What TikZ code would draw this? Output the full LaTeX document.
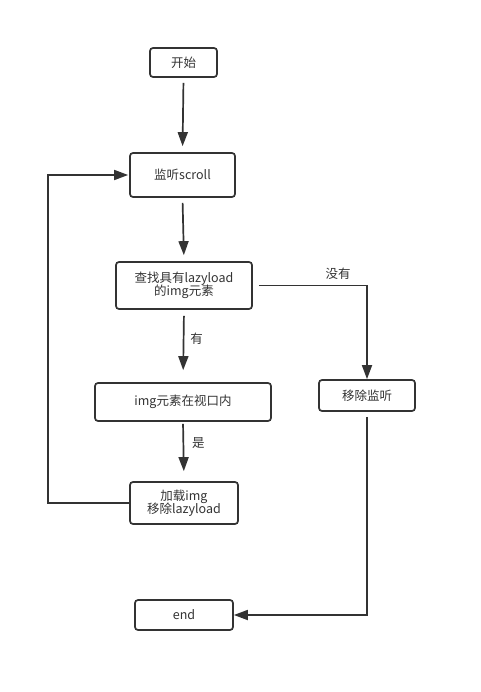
\documentclass[tikz,border=0pt]{standalone}
\usepackage{fontspec}
\setmainfont{Noto Sans CJK SC}
\usetikzlibrary{arrows.meta}
\definecolor{ink}{HTML}{333333}
\tikzset{
  box/.style={draw=ink, line width=1.7pt, rounded corners=3pt, text=ink, align=center, inner sep=0pt,
    font=\fontsize{12.5}{15}\selectfont},
  conn/.style={draw=ink, line width=1.7pt, -{Triangle[length=14pt,width=10pt]}},
  lbl/.style={text=ink, font=\fontsize{12.5}{14}\selectfont, inner sep=0pt}
}
\begin{document}
\begin{tikzpicture}[x=1pt,y=-1pt]
\useasboundingbox (0,0) rectangle (480,692);
\node[box, minimum width=67pt, minimum height=29pt] (start) at (183.5,62.5) {开始};
\node[box, minimum width=105pt, minimum height=44pt] (listen) at (182.5,175) {监听scroll};
\node[box, minimum width=136pt, minimum height=47pt] (find) at (184,285.5) {查找具有lazyload\\[-2pt]的img元素};
\node[box, minimum width=176pt, minimum height=38pt] (inview) at (183,402) {img元素在视口内};
\node[box, minimum width=96pt, minimum height=31pt] (remove) at (367,395.5) {移除监听};
\node[box, minimum width=108pt, minimum height=42pt] (load) at (184,503) {加载img\\[-2pt]移除lazyload};
\node[box, minimum width=98pt, minimum height=30pt] (end) at (184,615) {end};
\coordinate (c1) at (367,285.5);
\coordinate (c2) at (48,503);
\coordinate (c3) at (48,175);
\coordinate (c4) at (367,615);

\draw[conn, shorten <=5pt, shorten >=6pt] (start.south) -- (listen.north);
\draw[conn, shorten <=5pt, shorten >=6pt] (listen.south) -- (find.north);
\draw[conn, shorten <=6pt, shorten >=12pt] (find.south) -- node[lbl, right=6pt, pos=0.4] {有} (inview.north);
\draw[conn, shorten <=2pt, shorten >=10pt] (inview.south) -- node[lbl, right=8pt, pos=0.35] {是} (load.north);
\draw[conn, shorten <=6pt] (find.east) -- (c1) -- (remove.north);
\node[lbl] (no) at (338,274) {没有};
\draw[conn, shorten >=1pt] (load.west) -- (c2) -- (c3) -- (listen.west);
\draw[conn, shorten <=5pt] (remove.south) -- (c4) -- (end.east);
\end{tikzpicture}
\end{document}
